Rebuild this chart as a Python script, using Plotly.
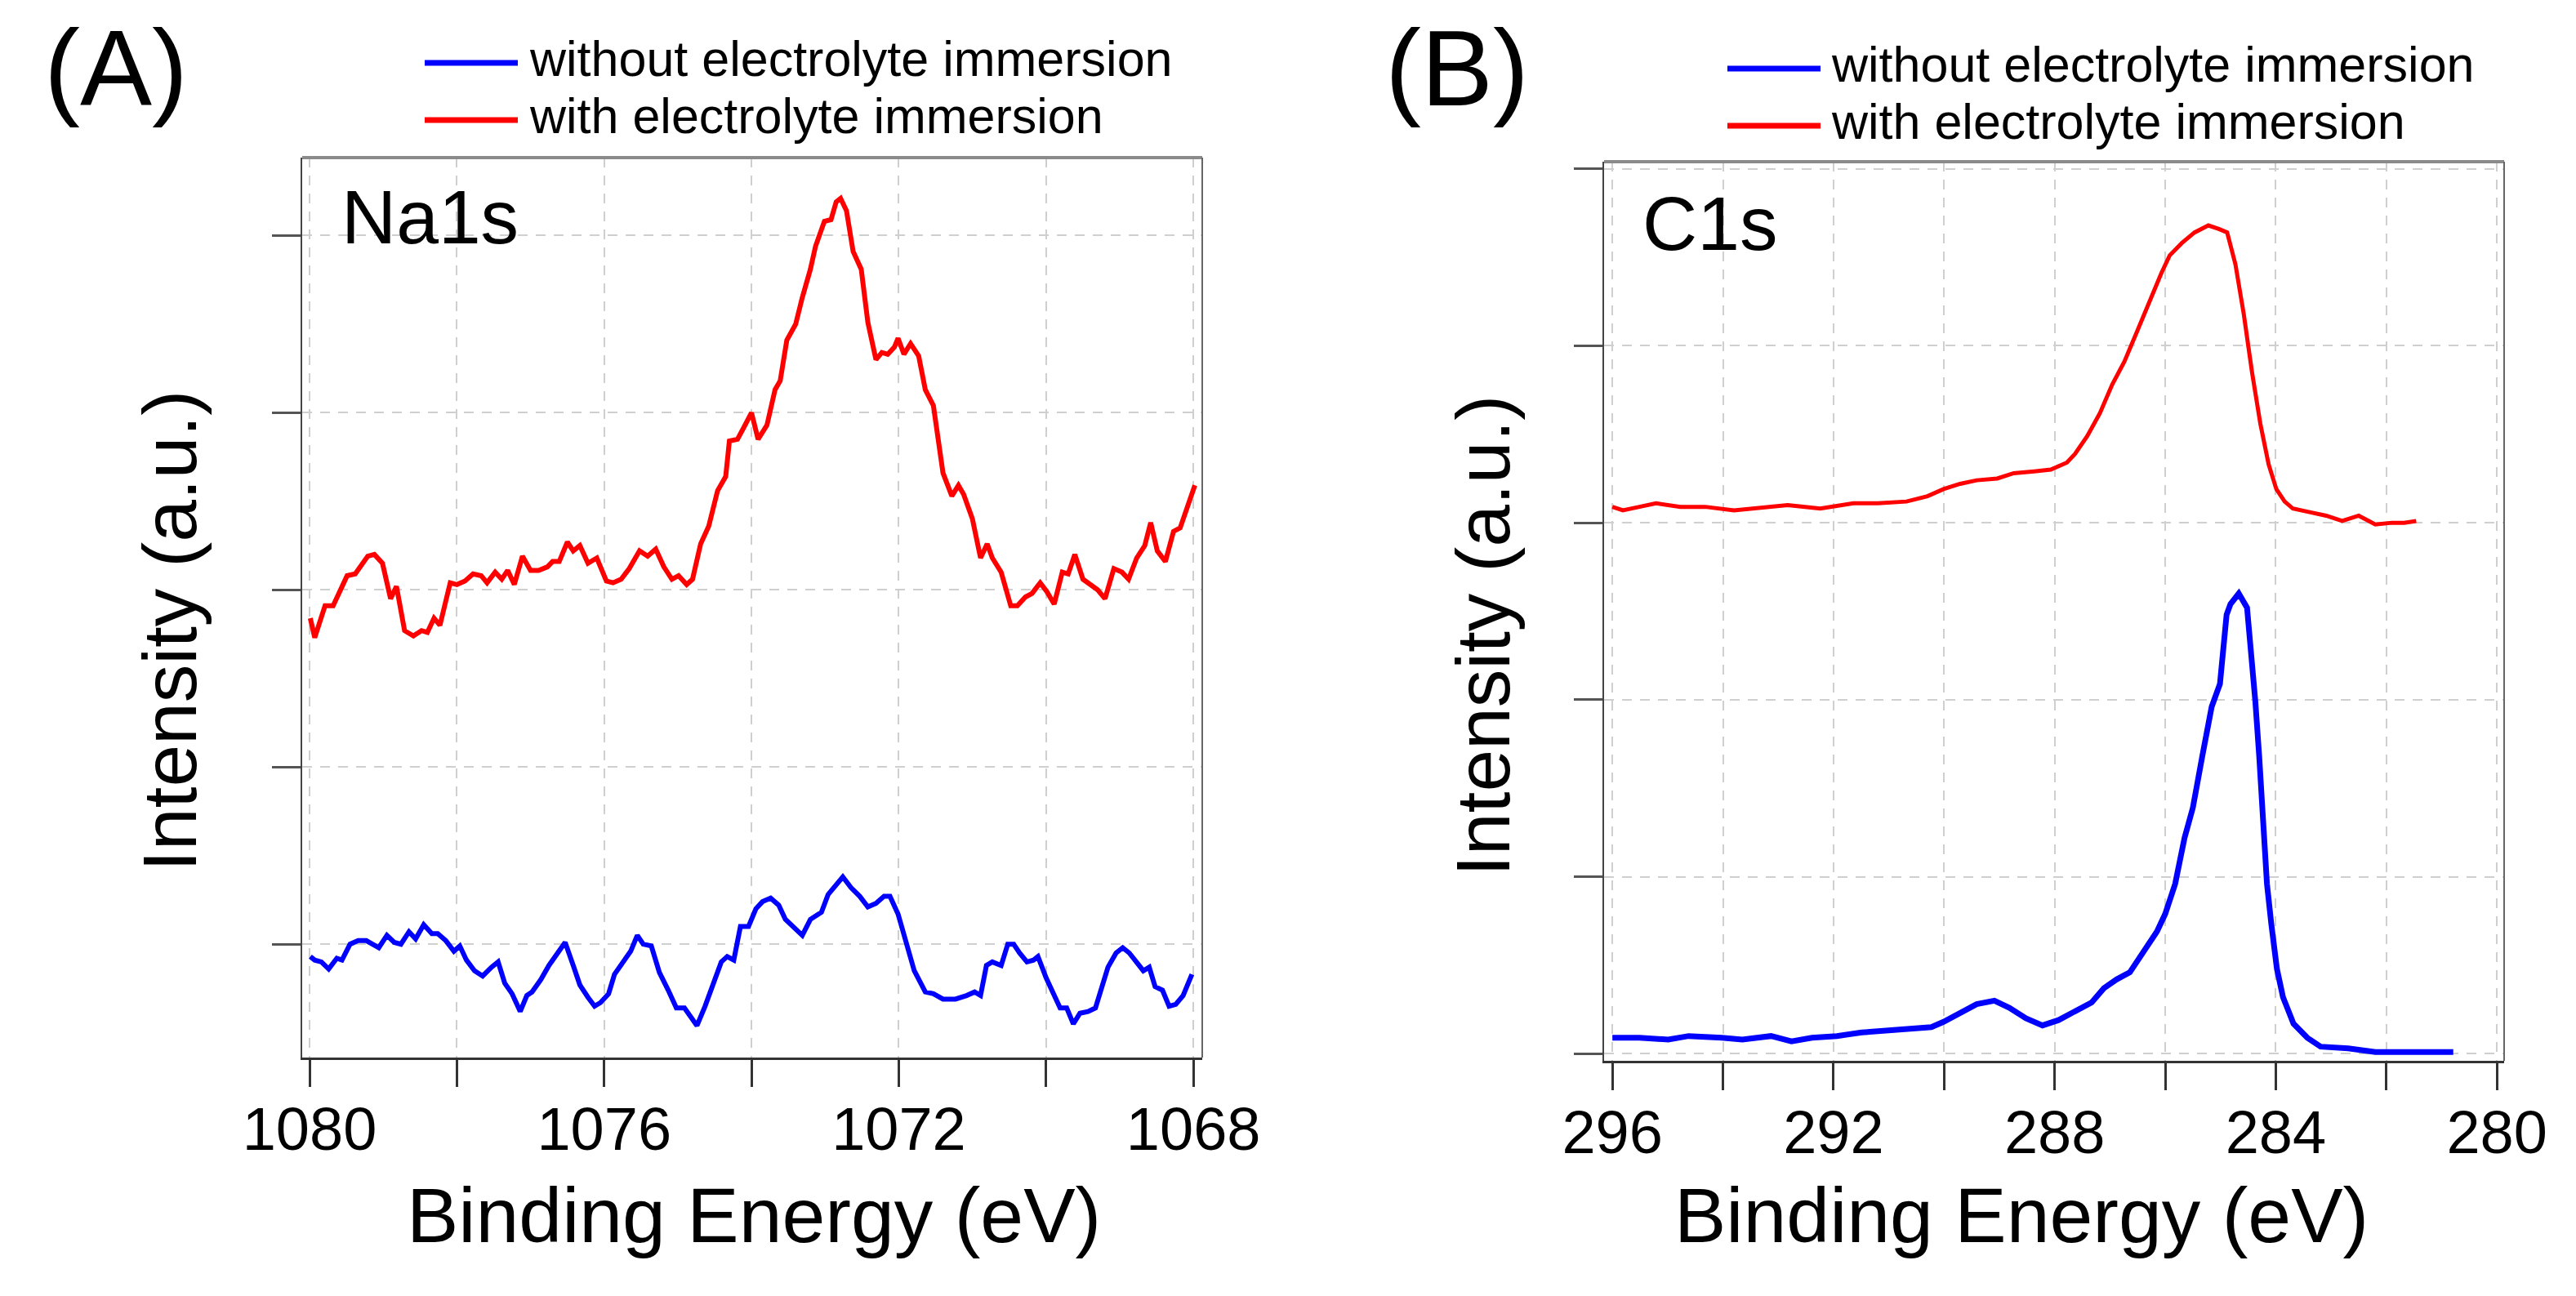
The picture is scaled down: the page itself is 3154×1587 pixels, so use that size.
import plotly.graph_objects as go

# ---------------- Panel A: Na1s ----------------
na_red_x = [1079.99, 1079.93, 1079.79, 1079.68, 1079.49, 1079.38, 1079.21, 1079.12, 1079.01, 1078.90,
            1078.82, 1078.71, 1078.59, 1078.48, 1078.40, 1078.31, 1078.23, 1078.09, 1078.00, 1077.89,
            1077.78, 1077.67, 1077.59, 1077.48, 1077.39, 1077.31, 1077.22, 1077.11, 1077.00, 1076.89,
            1076.77, 1076.70, 1076.61, 1076.50, 1076.42, 1076.33, 1076.22, 1076.10, 1075.97, 1075.88,
            1075.77, 1075.66, 1075.52, 1075.41, 1075.30, 1075.19, 1075.08, 1074.99, 1074.88, 1074.80,
            1074.69, 1074.58, 1074.46, 1074.35, 1074.30, 1074.19, 1074.10, 1074.00, 1073.91, 1073.79,
            1073.68, 1073.61, 1073.52, 1073.40, 1073.31, 1073.20, 1073.13, 1073.01, 1072.92, 1072.85,
            1072.79, 1072.71, 1072.62, 1072.51, 1072.42, 1072.31, 1072.23, 1072.15, 1072.06, 1072.01,
            1071.93, 1071.84, 1071.73, 1071.64, 1071.53, 1071.40, 1071.28, 1071.19, 1071.12, 1071.00,
            1070.89, 1070.80, 1070.73, 1070.61, 1070.48, 1070.39, 1070.28, 1070.19, 1070.08, 1069.99,
            1069.89, 1069.78, 1069.70, 1069.61, 1069.50, 1069.39, 1069.30, 1069.20, 1069.08, 1068.97,
            1068.88, 1068.77, 1068.66, 1068.58, 1068.49, 1068.38, 1068.27, 1068.18, 1068.08, 1067.98]
na_red_y = [1.84, 1.73, 1.91, 1.91, 2.08, 2.09, 2.19, 2.20, 2.15, 1.95,
            2.02, 1.77, 1.74, 1.77, 1.76, 1.84, 1.80, 2.04, 2.03, 2.05,
            2.09, 2.08, 2.04, 2.10, 2.06, 2.11, 2.03, 2.19, 2.11, 2.11,
            2.13, 2.16, 2.16, 2.27, 2.22, 2.25, 2.15, 2.18, 2.05, 2.04,
            2.06, 2.12, 2.22, 2.19, 2.23, 2.13, 2.06, 2.08, 2.03, 2.06,
            2.26, 2.36, 2.56, 2.64, 2.84, 2.85, 2.92, 3.00, 2.85, 2.93,
            3.13, 3.18, 3.41, 3.50, 3.65, 3.81, 3.94, 4.08, 4.09, 4.19,
            4.21, 4.14, 3.91, 3.81, 3.51, 3.30, 3.34, 3.33, 3.37, 3.42,
            3.33, 3.39, 3.32, 3.13, 3.04, 2.66, 2.53, 2.59, 2.54, 2.40,
            2.18, 2.26, 2.18, 2.10, 1.91, 1.91, 1.96, 1.98, 2.04, 1.99,
            1.92, 2.10, 2.09, 2.20, 2.06, 2.03, 2.00, 1.95, 2.12, 2.10,
            2.06, 2.18, 2.25, 2.38, 2.22, 2.16, 2.33, 2.35, 2.47, 2.59]

na_blue_x = [1079.99, 1079.93, 1079.84, 1079.74, 1079.63, 1079.56, 1079.45, 1079.34, 1079.23, 1079.15,
             1079.06, 1078.95, 1078.85, 1078.76, 1078.65, 1078.56, 1078.45, 1078.34, 1078.26, 1078.15,
             1078.04, 1077.96, 1077.87, 1077.76, 1077.65, 1077.53, 1077.44, 1077.35, 1077.25, 1077.14,
             1077.05, 1076.98, 1076.86, 1076.75, 1076.64, 1076.53, 1076.42, 1076.33, 1076.22, 1076.13,
             1076.05, 1075.94, 1075.86, 1075.75, 1075.64, 1075.55, 1075.47, 1075.36, 1075.25, 1075.13,
             1075.02, 1074.91, 1074.82, 1074.74, 1074.63, 1074.52, 1074.41, 1074.33, 1074.24, 1074.15,
             1074.04, 1073.94, 1073.85, 1073.74, 1073.63, 1073.54, 1073.43, 1073.31, 1073.20, 1073.13,
             1073.05, 1072.96, 1072.85, 1072.76, 1072.65, 1072.53, 1072.42, 1072.31, 1072.20, 1072.12,
             1072.01, 1071.90, 1071.79, 1071.64, 1071.53, 1071.40, 1071.23, 1071.08, 1070.97, 1070.89,
             1070.81, 1070.73, 1070.61, 1070.52, 1070.44, 1070.36, 1070.26, 1070.17, 1070.11, 1070.00,
             1069.89, 1069.81, 1069.72, 1069.63, 1069.54, 1069.43, 1069.33, 1069.25, 1069.16, 1069.05,
             1068.96, 1068.87, 1068.77, 1068.68, 1068.60, 1068.52, 1068.42, 1068.33, 1068.24, 1068.14,
             1068.02]
na_blue_y = [-0.07, -0.09, -0.10, -0.14, -0.08, -0.09, 0.00, 0.02, 0.02, 0.00,
             -0.02, 0.05, 0.01, 0.00, 0.07, 0.03, 0.11, 0.06, 0.06, 0.02,
             -0.04, -0.01, -0.09, -0.15, -0.18, -0.13, -0.10, -0.22, -0.28, -0.38,
             -0.29, -0.27, -0.20, -0.12, -0.05, 0.01, -0.12, -0.23, -0.30, -0.35,
             -0.33, -0.28, -0.17, -0.11, -0.04, 0.05, 0.00, -0.01, -0.16, -0.26,
             -0.36, -0.36, -0.41, -0.46, -0.35, -0.22, -0.10, -0.07, -0.09, 0.10,
             0.10, 0.20, 0.24, 0.26, 0.22, 0.14, 0.10, 0.05, 0.14, 0.16,
             0.18, 0.28, 0.33, 0.38, 0.32, 0.27, 0.21, 0.23, 0.27, 0.27,
             0.17, 0.02, -0.15, -0.27, -0.28, -0.31, -0.31, -0.29, -0.27, -0.29,
             -0.12, -0.10, -0.12, 0.00, 0.00, -0.05, -0.10, -0.09, -0.07, -0.19,
             -0.29, -0.36, -0.36, -0.45, -0.39, -0.38, -0.36, -0.24, -0.13, -0.05,
             -0.02, -0.05, -0.10, -0.15, -0.13, -0.24, -0.26, -0.35, -0.34, -0.29,
             -0.17]

# ---------------- Panel B: C1s ----------------
c_red_x = [296.00, 295.81, 295.51, 295.21, 294.77, 294.32, 293.80, 293.43, 292.83, 292.24,
           291.64, 291.20, 290.68, 290.30, 290.01, 289.71, 289.41, 289.04, 288.74, 288.37,
           288.07, 287.78, 287.63, 287.41, 287.18, 286.96, 286.74, 286.51, 286.29, 286.07,
           285.92, 285.70, 285.47, 285.22, 285.03, 284.88, 284.73, 284.58, 284.43, 284.28,
           284.13, 283.99, 283.84, 283.69, 283.39, 283.09, 282.80, 282.50, 282.20, 281.90,
           281.68, 281.46]
c_red_y = [3.09, 3.07, 3.09, 3.11, 3.09, 3.09, 3.07, 3.08, 3.10, 3.08,
           3.11, 3.11, 3.12, 3.15, 3.19, 3.22, 3.24, 3.25, 3.28, 3.29,
           3.30, 3.34, 3.39, 3.49, 3.62, 3.78, 3.91, 4.08, 4.25, 4.41,
           4.51, 4.58, 4.64, 4.68, 4.66, 4.64, 4.46, 4.18, 3.85, 3.56,
           3.33, 3.19, 3.12, 3.08, 3.06, 3.04, 3.01, 3.04, 2.99, 3.00,
           3.00, 3.01]

c_blue_x = [296.00, 295.51, 294.99, 294.62, 294.02, 293.65, 293.13, 292.76, 292.39, 291.94,
            291.49, 291.05, 290.60, 290.23, 290.01, 289.71, 289.41, 289.09, 288.82, 288.52,
            288.22, 287.93, 287.63, 287.33, 287.11, 286.88, 286.64, 286.35, 286.15, 286.00,
            285.82, 285.65, 285.50, 285.33, 285.16, 285.01, 284.89, 284.82, 284.67, 284.52,
            284.45, 284.37, 284.30, 284.23, 284.16, 284.08, 283.98, 283.87, 283.68, 283.43,
            283.19, 282.69, 282.20, 281.53, 281.09, 280.79]
c_blue_y = [0.09, 0.09, 0.08, 0.10, 0.09, 0.08, 0.10, 0.07, 0.09, 0.10,
            0.12, 0.13, 0.14, 0.15, 0.18, 0.23, 0.28, 0.30, 0.26, 0.20,
            0.16, 0.19, 0.24, 0.29, 0.37, 0.42, 0.46, 0.59, 0.69, 0.79,
            0.96, 1.22, 1.39, 1.68, 1.96, 2.09, 2.48, 2.54, 2.60, 2.52,
            2.29, 1.99, 1.68, 1.27, 0.96, 0.73, 0.48, 0.32, 0.17, 0.09,
            0.04, 0.03, 0.01, 0.01, 0.01, 0.01]

series_names = ["without electrolyte immersion", "with electrolyte immersion"]
series_colors = ["#0000FF", "#FF0000"]

a_xticks = [1080, 1078, 1076, 1074, 1072, 1070, 1068]
a_xlabels = ["1080", "", "1076", "", "1072", "", "1068"]
b_xticks = [296, 294, 292, 290, 288, 286, 284, 282, 280]
b_xlabels = ["296", "", "292", "", "288", "", "284", "", "280"]
a_yticks = [0, 1, 2, 3, 4]
b_yticks = [0, 1, 2, 3, 4, 5]

FONT = "Liberation Sans, Arial, sans-serif"
W, H = 3154, 1587

def px(x):
    return x / W

def py(y):
    return 1 - y / H

fig = go.Figure()
fig.add_trace(go.Scatter(x=na_blue_x, y=na_blue_y, mode="lines", name=series_names[0],
                         line=dict(color=series_colors[0], width=6), xaxis="x", yaxis="y", showlegend=False))
fig.add_trace(go.Scatter(x=na_red_x, y=na_red_y, mode="lines", name=series_names[1],
                         line=dict(color=series_colors[1], width=6), xaxis="x", yaxis="y", showlegend=False))
fig.add_trace(go.Scatter(x=c_blue_x, y=c_blue_y, mode="lines", name=series_names[0],
                         line=dict(color=series_colors[0], width=7), xaxis="x2", yaxis="y2", showlegend=False))
fig.add_trace(go.Scatter(x=c_red_x, y=c_red_y, mode="lines", name=series_names[1],
                         line=dict(color=series_colors[1], width=5), xaxis="x2", yaxis="y2", showlegend=False))

grid = dict(showgrid=True, gridcolor="#cfcfcf", gridwidth=2, griddash="12px,10px", zeroline=False,
            automargin=False)

def xaxis(domain, rng, vals, labels, anchor):
    return dict(domain=domain, range=rng, tickmode="array", tickvals=vals, ticktext=labels,
                ticks="outside", ticklen=33, tickwidth=3, tickcolor="#333333", anchor=anchor,
                tickfont=dict(family=FONT, size=74, color="black"), ticklabelstandoff=-12,
                showline=True, linecolor="#333333", linewidth=3, mirror=False, **grid)

def yaxis(domain, rng, vals, anchor):
    return dict(domain=domain, range=rng, tickmode="array", tickvals=vals, showticklabels=False,
                ticks="outside", ticklen=35, tickwidth=3, tickcolor="#555555", anchor=anchor,
                showline=True, linecolor="#444444", linewidth=2, mirror=False, **grid)

fig.update_layout(
    template="none",
    width=W, height=H, margin=dict(l=0, r=0, t=0, b=0, pad=0, autoexpand=False),
    paper_bgcolor="white", plot_bgcolor="white", showlegend=False,
    xaxis=xaxis([px(362), px(1464)], [1080.1, 1067.88], a_xticks, a_xlabels, "y"),
    yaxis=yaxis([py(1287), py(185)], [-0.64, 4.44], a_yticks, "x"),
    xaxis2=xaxis([px(1956), px(3058)], [296.15, 279.87], b_xticks, b_xlabels, "y2"),
    yaxis2=yaxis([py(1291), py(190)], [-0.04, 5.04], b_yticks, "x2"),
)

shapes = []
# top and right frame lines (gray)
for xa, ya in (("x", "y"), ("x2", "y2")):
    shapes.append(dict(type="line", xref=xa + " domain", yref=ya + " domain", x0=0, x1=1, y0=1, y1=1,
                       line=dict(color="#8a8a8a", width=4)))
    shapes.append(dict(type="line", xref=xa + " domain", yref=ya + " domain", x0=1, x1=1, y0=0, y1=1,
                       line=dict(color="#666666", width=2)))

annotations = []

def text(x, y, s, size, xanchor="center", angle=0):
    annotations.append(dict(x=px(x), y=py(y), xref="paper", yref="paper", text=s, showarrow=False,
                            xanchor=xanchor, yanchor="middle", textangle=angle,
                            font=dict(family=FONT, size=size, color="black")))

# legends (drawn as line samples + labels)
legend_pos = [(512, 626, 638, [69, 139]), (2107, 2221, 2232, [76, 146])]
for x0, x1, tx, ys in legend_pos:
    for name, color, yy in zip(series_names, series_colors, ys):
        shapes.append(dict(type="line", xref="paper", yref="paper", x0=px(x0), x1=px(x1),
                           y0=py(yy), y1=py(yy), line=dict(color=color, width=7)))
        text(tx, yy - 5, name, 61, xanchor="left")

text(134, 76, "(A)", 132)
text(1776, 76, "(B)", 132)
text(408, 258, "Na1s", 93, xanchor="left")
text(2001, 266, "C1s", 93, xanchor="left")
text(915, 1480, "Binding Energy (eV)", 95)
text(2467, 1480, "Binding Energy (eV)", 95)
text(200, 764, "Intensity (a.u.)", 93, angle=-90)
text(1808, 771, "Intensity (a.u.)", 93, angle=-90)

fig.update_layout(shapes=shapes, annotations=annotations)
fig.write_html("out.html")
